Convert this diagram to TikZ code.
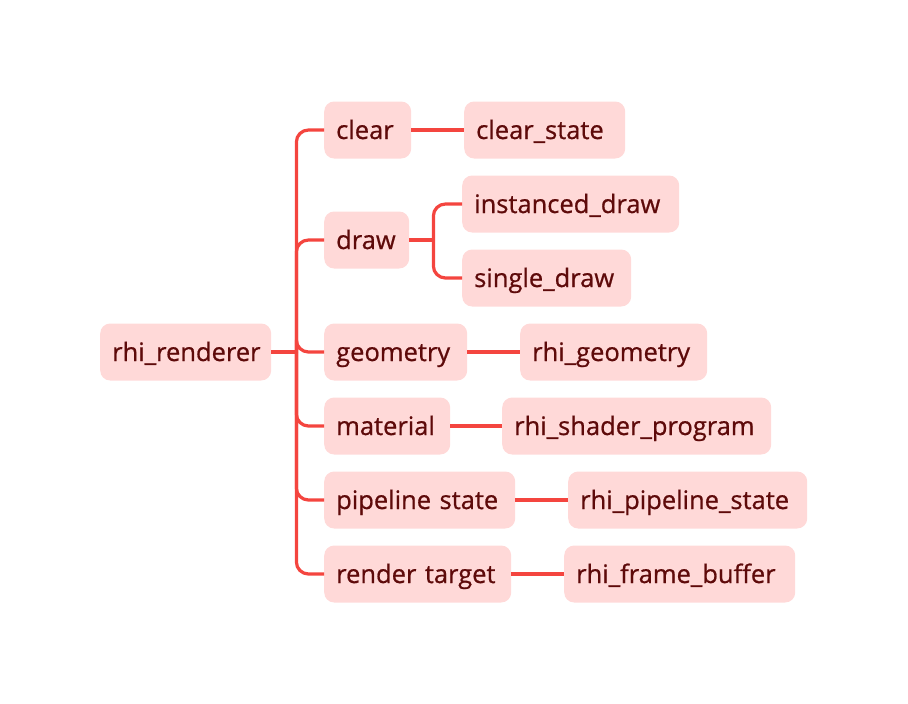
\documentclass[tikz,border=0pt]{standalone}
\usepackage{fontspec}
\setmainfont{Open Sans}[FakeBold=0.7]
\definecolor{boxfill}{HTML}{FFD9D8}
\definecolor{boxtext}{HTML}{5E0A0A}
\definecolor{linkred}{HTML}{F4453F}
\begin{document}
\begin{tikzpicture}[x=1pt,y=1pt,
        item/.style={fill=boxfill, text=boxtext, rounded corners=10pt, anchor=west,
                     minimum height=57pt, inner xsep=12pt, inner ysep=0pt, align=left,
                     text height=22pt, text depth=4pt, text width=#1,
                     font=\fontsize{25.5}{28}\selectfont},
        link/.style={draw=linkred, line width=3.2pt, rounded corners=12pt}]
        \useasboundingbox (0,0) rectangle (908,-704);
        % root
        \node [item=147pt] (root) at (100,-352) {rhi\_renderer};
        % first level
        \node [item=63pt] (clear) at (324,-130) {clear};
        \node [item=61pt] (draw) at (324,-240) {draw};
        \node [item=119pt] (geometry) at (324,-352) {geometry};
        \node [item=102pt] (material) at (324,-426) {material};
        \node [item=167pt] (pipeline) at (324,-500) {pipeline state};
        \node [item=163pt] (target) at (324,-574) {render target};
        % second level
        \node [item=137pt] (clearstate) at (464,-130) {clear\_state};
        \node [item=193pt] (instanced) at (462,-204) {instanced\_draw};
        \node [item=145pt] (single) at (462,-278) {single\_draw};
        \node [item=163pt] (rhigeometry) at (520,-352) {rhi\_geometry};
        \node [item=245pt] (shader) at (502,-426) {rhi\_shader\_program};
        \node [item=215pt] (rhipipeline) at (568,-500) {rhi\_pipeline\_state};
        \node [item=207pt] (framebuffer) at (564,-574) {rhi\_frame\_buffer};
        % connectors
        \draw [link] (root.east) -- ++(25,0) coordinate (trunk);
        \foreach \c in {clear,draw,geometry,material,pipeline,target}
            \draw [link] (trunk) |- (\c.west);
        \draw [link] (draw.east) -- ++(24,0) coordinate (fork);
        \foreach \c in {instanced,single}
            \draw [link] (fork) |- (\c.west);
        \draw [link] (clear) -- (clearstate);
        \draw [link] (geometry) -- (rhigeometry);
        \draw [link] (material) -- (shader);
        \draw [link] (pipeline) -- (rhipipeline);
        \draw [link] (target) -- (framebuffer);
\end{tikzpicture}
\end{document}
